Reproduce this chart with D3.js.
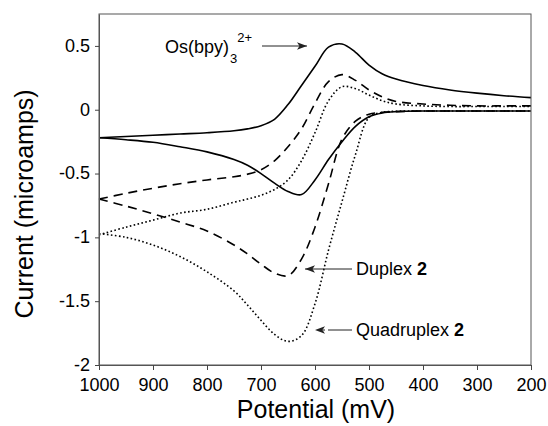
<!DOCTYPE html>
<html>
<head>
<meta charset="utf-8">
<script src="https://cdn.jsdelivr.net/npm/d3@7"></script>
<style>
  body { margin: 0; background: #fff; }
  svg { display: block; font-family: "Liberation Sans", Arial, sans-serif; }
</style>
</head>
<body>
<svg id="chart" width="548" height="426"></svg>
<script>
// potential grid (mV), scan goes 1000 -> 200 and back
var potential = [1000, 950, 900, 850, 800, 750, 725, 700, 675, 650, 625, 600, 575, 550, 525, 500, 475, 450, 400, 350, 300, 250, 200];

// current (microamps), forward scan (anodic) and return scan (cathodic), same grid
var osFwd = [-0.22, -0.21, -0.20, -0.19, -0.18, -0.165, -0.15, -0.125, -0.075, 0.04, 0.19, 0.34, 0.49, 0.515, 0.45, 0.35, 0.28, 0.24, 0.19, 0.155, 0.13, 0.11, 0.095];
var osRev = [-0.22, -0.235, -0.255, -0.29, -0.33, -0.39, -0.435, -0.50, -0.575, -0.64, -0.665, -0.55, -0.39, -0.25, -0.13, -0.055, -0.025, -0.015, -0.01, -0.01, -0.01, -0.01, -0.01];

var duplexFwd = [-0.70, -0.655, -0.615, -0.58, -0.55, -0.525, -0.505, -0.47, -0.40, -0.29, -0.15, 0.05, 0.22, 0.275, 0.23, 0.155, 0.10, 0.065, 0.045, 0.035, 0.03, 0.03, 0.03];
var duplexRev = [-0.70, -0.755, -0.815, -0.88, -0.95, -1.06, -1.13, -1.21, -1.28, -1.30, -1.17, -0.92, -0.58, -0.23, -0.09, -0.035, -0.02, -0.015, -0.01, -0.01, -0.01, -0.01, -0.01];

var quadFwd = [-0.98, -0.92, -0.865, -0.81, -0.78, -0.725, -0.70, -0.67, -0.625, -0.55, -0.40, -0.18, 0.07, 0.18, 0.165, 0.115, 0.07, 0.045, 0.03, 0.025, 0.025, 0.025, 0.025];
var quadRev = [-0.97, -1.00, -1.06, -1.15, -1.27, -1.42, -1.53, -1.65, -1.76, -1.815, -1.77, -1.52, -1.10, -0.72, -0.35, -0.06, -0.02, -0.012, -0.01, -0.01, -0.01, -0.01, -0.01];

var xTicks = [1000, 900, 800, 700, 600, 500, 400, 300, 200];
var yTicks = [-2, -1.5, -1, -0.5, 0, 0.5];

var margin = {top: 14, right: 17, bottom: 61, left: 99};
var width = 548 - margin.left - margin.right;
var height = 426 - margin.top - margin.bottom;

var svg = d3.select("#chart");
var g = svg.append("g").attr("transform", "translate(" + margin.left + "," + margin.top + ")");

var x = d3.scaleLinear().domain([1000, 200]).range([0, width]);
var y = d3.scaleLinear().domain([-2, 0.75]).range([height, 0]);

function branch(vals) {
    return potential.map(function (p, i) { return [p, vals[i]]; });
}

var line = d3.line()
    .x(function (d) { return x(d[0]); })
    .y(function (d) { return y(d[1]); })
    .curve(d3.curveCatmullRom.alpha(0.5));

// each scan branch drawn on its own so the turning points stay sharp
var series = [
    {data: branch(osFwd), dash: null},
    {data: branch(osRev), dash: null},
    {data: branch(duplexFwd), dash: "9,6"},
    {data: branch(duplexRev), dash: "9,6"},
    {data: branch(quadFwd), dash: "1.6,2.4"},
    {data: branch(quadRev), dash: "1.6,2.4"}
];

g.selectAll("path.cv").data(series).enter().append("path")
    .attr("class", "cv")
    .attr("d", function (d) { return line(d.data); })
    .attr("fill", "none")
    .attr("stroke", "#000")
    .attr("stroke-width", 1.6)
    .attr("stroke-dasharray", function (d) { return d.dash; });

// frame
g.append("rect").attr("width", width).attr("height", height)
    .attr("fill", "none").attr("stroke", "#555").attr("stroke-width", 1);

var xAxis = g.append("g").attr("transform", "translate(0," + height + ")")
    .call(d3.axisBottom(x).tickValues(xTicks).tickSize(5).tickSizeOuter(0).tickPadding(8)
        .tickFormat(function (d) { return String(d); }));
var yAxis = g.append("g")
    .call(d3.axisLeft(y).tickValues(yTicks).tickSize(4).tickSizeOuter(0).tickPadding(5)
        .tickFormat(function (d) { return String(d); }));

[xAxis, yAxis].forEach(function (a) {
    a.select(".domain").attr("stroke", "#555");
    a.selectAll(".tick line").attr("stroke", "#444");
    a.selectAll("text").attr("font-size", 18).attr("fill", "#000")
        .attr("font-family", "'Liberation Sans', Arial, sans-serif");
});
yAxis.selectAll("text").attr("dy", "0.3em");

// axis titles
svg.append("text").attr("x", margin.left + width / 2 + 1).attr("y", 418)
    .attr("text-anchor", "middle").attr("font-size", 25).text("Potential (mV)");
svg.append("text").attr("transform", "translate(33,204) rotate(-90)")
    .attr("text-anchor", "middle").attr("font-size", 25).text("Current (microamps)");

// arrow marker
svg.append("defs").append("marker").attr("id", "ah")
    .attr("viewBox", "0 0 10 10").attr("refX", 10).attr("refY", 5)
    .attr("markerWidth", 10).attr("markerHeight", 10).attr("markerUnits", "userSpaceOnUse")
    .attr("orient", "auto")
    .append("path").attr("d", "M0,1.2 L10,5 L0,8.8 L2.5,5 z").attr("fill", "#222");

// annotations
var os = svg.append("text").attr("x", 165).attr("y", 53).attr("font-size", 18);
os.append("tspan").text("Os(bpy)");
os.append("tspan").attr("font-size", 13).attr("dy", 10).attr("dx", 1).text("3");
os.append("tspan").attr("font-size", 13).attr("dy", -21).attr("dx", 0).text("2+");
svg.append("line").attr("x1", 262).attr("y1", 46).attr("x2", 307).attr("y2", 46)
    .attr("stroke", "#222").attr("stroke-width", 1).attr("marker-end", "url(#ah)");

var dup = svg.append("text").attr("x", 356).attr("y", 275).attr("font-size", 18);
dup.append("tspan").text("Duplex ");
dup.append("tspan").attr("font-weight", "bold").text("2");
svg.append("line").attr("x1", 352).attr("y1", 269).attr("x2", 305).attr("y2", 269)
    .attr("stroke", "#222").attr("stroke-width", 1).attr("marker-end", "url(#ah)");

var quad = svg.append("text").attr("x", 356).attr("y", 336).attr("font-size", 18);
quad.append("tspan").text("Quadruplex ");
quad.append("tspan").attr("font-weight", "bold").text("2");
svg.append("line").attr("x1", 352).attr("y1", 330).attr("x2", 315).attr("y2", 330)
    .attr("stroke", "#222").attr("stroke-width", 1).attr("stroke-dasharray", "24,3,2,3,2,3")
    .attr("marker-end", "url(#ah)");
</script>
</body>
</html>
